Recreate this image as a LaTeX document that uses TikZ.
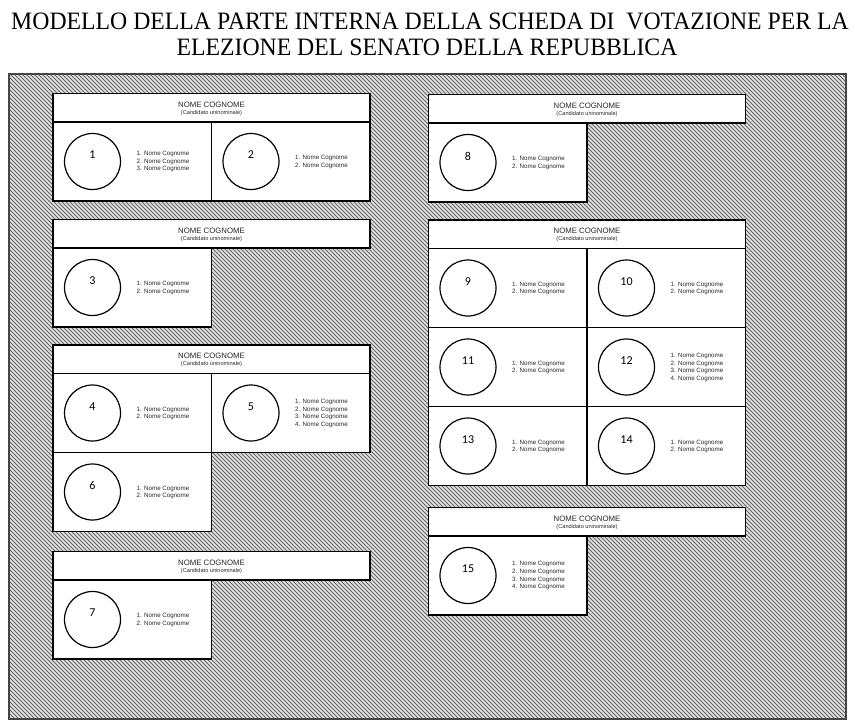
\documentclass[tikz,border=0pt]{standalone}
\usepackage{fontspec}
\setmainfont{Liberation Serif}
\newfontfamily\labelfam{Liberation Sans}
\newfontfamily\numfam{Carlito}
\usetikzlibrary{patterns.meta}
\definecolor{hatchbase}{RGB}{226,226,226}
\definecolor{hatchline}{RGB}{105,105,105}
\definecolor{framecol}{RGB}{70,70,70}
\definecolor{txtcol}{RGB}{40,40,40}
\newcommand\lsttwo{1. Nome Cognome\\2. Nome Cognome}
\newcommand\lstthree{1. Nome Cognome\\2. Nome Cognome\\3. Nome Cognome}
\newcommand\lstfour{1. Nome Cognome\\2. Nome Cognome\\3. Nome Cognome\\4. Nome Cognome}
% header block: name, x, y(top), width
\newcommand\hdrblock[4]{%
  \node[hdrbox, minimum width=#4pt] (#1) at (#2,#3) {};
  \node[hdrtitle] (#1t) at (#2+#4/2,#3+11) {NOME COGNOME};
  \node[hdrsub] (#1s) at (#2+#4/2,#3+19.2) {(Candidato uninominale)};
}
% voting cell: name, x, y(top), number, list
\newcommand\votecell[5]{%
  \node[cellbox] (#1) at (#2,#3) {};
  \node[votecirc] (#1c) at (#2+39.5,#3+39.5) {};
  \node[numlbl] (#1n) at (#2+39.5,#3+33) {#4};
  \node[listlbl] (#1l) at (#2+83.5,#3+39.8) {#5};
}
\begin{document}
\begin{tikzpicture}[x=1pt,y=-1pt,
  panel/.style={draw=framecol, line width=2pt, preaction={fill=hatchbase},
    pattern={Lines[angle=-45,distance=2.8284pt,line width=1.0pt]}, pattern color=hatchline,
    minimum width=837pt, minimum height=645pt, anchor=north west, inner sep=0, outer sep=0},
  hdrbox/.style={draw=black, fill=white, line width=1.2pt, minimum height=28.5pt,
    anchor=north west, inner sep=0, outer sep=0},
  cellbox/.style={draw=black, fill=white, line width=1.2pt, minimum width=158.5pt,
    minimum height=79pt, anchor=north west, inner sep=0, outer sep=0},
  votecirc/.style={circle, draw=black, line width=1.2pt, minimum size=56pt, inner sep=0},
  numlbl/.style={font=\numfam\fontsize{12}{12}\selectfont, inner sep=0},
  listlbl/.style={font=\labelfam\fontsize{6.2}{7.6}\selectfont, text=txtcol, align=left, anchor=west, inner sep=0},
  hdrtitle/.style={font=\labelfam\fontsize{7.8}{8}\selectfont, text=txtcol, inner sep=0},
  hdrsub/.style={font=\labelfam\fontsize{5.6}{6}\selectfont, text=txtcol, inner sep=0},
  titletxt/.style={font=\rmfamily\fontsize{25}{25}\selectfont, anchor=base, inner sep=0}]
\useasboundingbox (0,0) rectangle (855,728);
\fill[white] (0,0) rectangle (855,728);
\node[titletxt] (title1) at (430,29.3) {\scalebox{0.95}[1]{MODELLO DELLA PARTE INTERNA DELLA SCHEDA DI\ \ VOTAZIONE PER LA}};
\node[titletxt] (title2) at (427,55) {\scalebox{0.95}[1]{ELEZIONE DEL SENATO DELLA REPUBBLICA}};
\node[panel] (panel) at (9,73.5) {};
% left column
\hdrblock{hA}{53}{93.5}{317}
\votecell{c1}{53}{122}{1}{\lstthree}
\votecell{c2}{211.5}{122}{2}{\lsttwo}
\hdrblock{hB}{53}{219.5}{317}
\votecell{c3}{53}{248}{3}{\lsttwo}
\hdrblock{hC}{53}{345}{317}
\votecell{c4}{53}{373.5}{4}{\lsttwo}
\votecell{c5}{211.5}{373.5}{5}{\lstfour}
\votecell{c6}{53}{452.5}{6}{\lsttwo}
\hdrblock{hD}{53}{551.5}{317}
\votecell{c7}{53}{580}{7}{\lsttwo}
% right column
\hdrblock{hE}{428.5}{94.5}{317}
\votecell{c8}{428.5}{123}{8}{\lsttwo}
\hdrblock{hF}{428.5}{220}{317}
\votecell{c9}{428.5}{248.5}{9}{\lsttwo}
\votecell{c10}{587}{248.5}{10}{\lsttwo}
\votecell{c11}{428.5}{327.5}{11}{\lsttwo}
\votecell{c12}{587}{327.5}{12}{\lstfour}
\votecell{c13}{428.5}{406.5}{13}{\lsttwo}
\votecell{c14}{587}{406.5}{14}{\lsttwo}
\hdrblock{hG}{428.5}{507.5}{317}
\votecell{c15}{428.5}{536}{15}{\lstfour}
\end{tikzpicture}
\end{document}
